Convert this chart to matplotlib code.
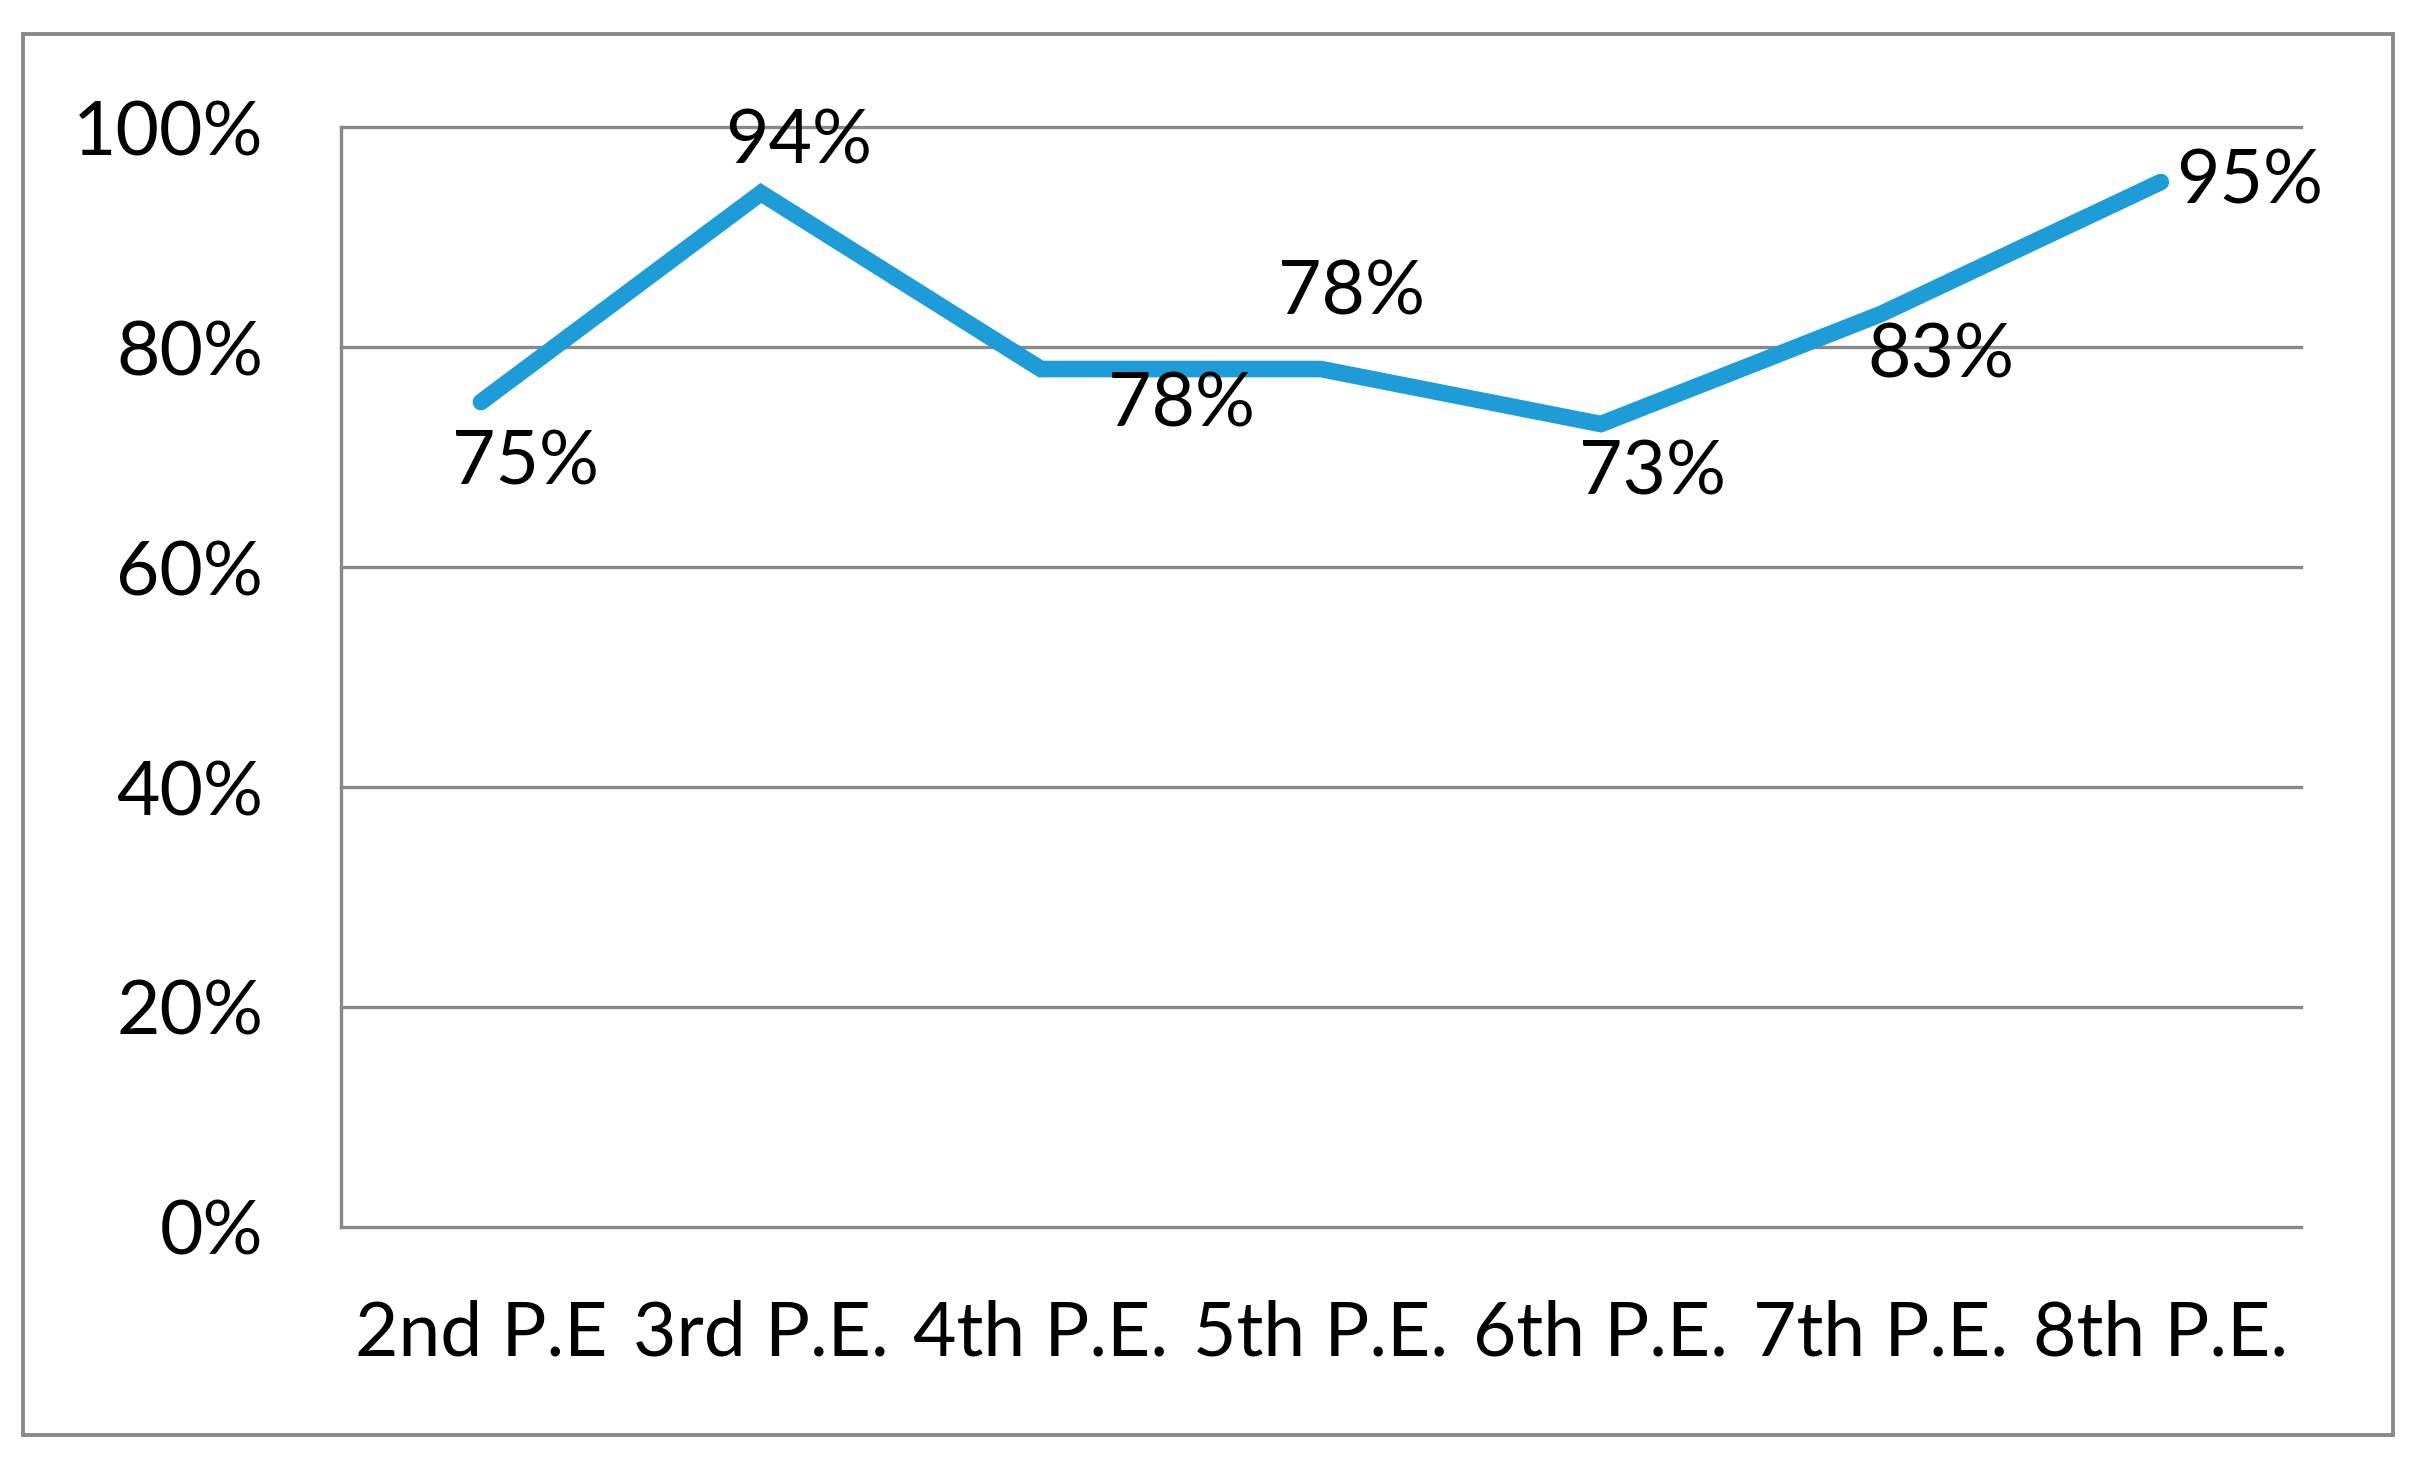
import matplotlib
matplotlib.use("Agg")
import matplotlib.pyplot as plt
from matplotlib.patches import Rectangle

# data
categories = ["2nd P.E", "3rd P.E.", "4th P.E.", "5th P.E.", "6th P.E.", "7th P.E.", "8th P.E."]
values = [0.75, 0.94, 0.78, 0.78, 0.73, 0.83, 0.95]
yticks = [0.0, 0.2, 0.4, 0.6, 0.8, 1.0]
ytick_labels = ["0%", "20%", "40%", "60%", "80%", "100%"]

# label offsets in points (dx, dy) and alignment, one per point
label_offsets = [(32, -44), (27, 37), (101, -26), (22, 55), (37, -35), (43, -30), (11, 0)]
label_ha = ["center", "center", "center", "center", "center", "center", "left"]

plt.rcParams['font.family'] = ['Lato', 'DejaVu Sans']
FS = 54
GRID = "#898989"
BLUE = "#1E9CD7"

fig = plt.figure(figsize=(24.25, 14.79), dpi=100, facecolor="w")
ax = fig.add_axes([0.1406, 0.1704, 0.8082, 0.7437])

# outer chart border
fig.patches.append(Rectangle((0.0095, 0.0297), 0.9773, 0.9473, transform=fig.transFigure,
                             fill=False, edgecolor=GRID, linewidth=2.8, zorder=0))

x = list(range(len(categories)))
ln, = ax.plot(x, values, color=BLUE, lw=12, solid_capstyle="round", solid_joinstyle="miter", zorder=3)
ln.set_clip_on(False)

for i, v in enumerate(values):
    dx, dy = label_offsets[i]
    ax.annotate("{:.0f}%".format(v * 100), (i, v), xytext=(dx, dy), textcoords="offset points",
                ha=label_ha[i], va="center", fontsize=FS, color="black", zorder=4)

ax.set_xlim(-0.5, len(categories) - 0.5)
ax.set_ylim(0, 1.0)
ax.set_yticks(yticks)
ax.set_yticklabels(ytick_labels)
ax.set_xticks(x)
ax.set_xticklabels(categories)
ax.tick_params(axis="y", length=0, pad=56, labelsize=FS)
ax.tick_params(axis="x", length=0, pad=52, labelsize=FS)

ax.yaxis.grid(True, color=GRID, lw=2.4)
for gl in ax.get_ygridlines():
    gl.set_clip_on(False)
ax.set_axisbelow(True)

for s in ["top", "right", "bottom"]:
    ax.spines[s].set_visible(False)
ax.spines["left"].set_color(GRID)
ax.spines["left"].set_linewidth(2.4)

fig.savefig("out.png", dpi=100, facecolor="w")
